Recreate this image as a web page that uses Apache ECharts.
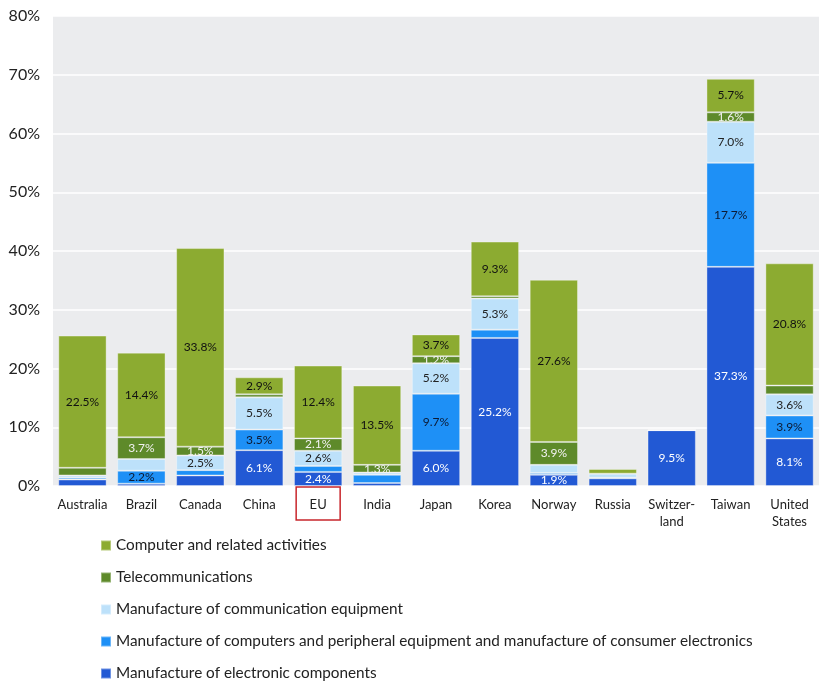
<!DOCTYPE html>
<html>
<head>
<meta charset="utf-8">
<script src="https://cdn.jsdelivr.net/npm/echarts@6/dist/echarts.min.js"></script>
<style>
  html, body { margin: 0; padding: 0; background: #fff; }
  #chart { width: 819px; height: 683px; }
</style>
</head>
<body>
<div id="chart"></div>
<script>
// categories (x axis)
const categories = ['Australia', 'Brazil', 'Canada', 'China', 'EU', 'India', 'Japan', 'Korea',
  'Norway', 'Russia', 'Switzer-\nland', 'Taiwan', 'United\nStates']

// shares in %, stacked bottom to top
const electronic = [1.1, 0.4, 1.8, 6.1, 2.4, 0.5, 6.0, 25.2, 1.9, 1.3, 9.5, 37.3, 8.1]
const computers = [0.3, 2.2, 0.9, 3.5, 1.0, 1.4, 9.7, 1.4, 0.3, 0.1, 0, 17.7, 3.9]
const commEquip = [0.4, 2.0, 2.5, 5.5, 2.6, 0.4, 5.2, 5.3, 1.4, 0.7, 0, 7.0, 3.6]
const telecom = [1.3, 3.7, 1.5, 0.5, 2.1, 1.3, 1.2, 0.4, 3.9, 0, 0, 1.6, 1.5]
const related = [22.5, 14.4, 33.8, 2.9, 12.4, 13.5, 3.7, 9.3, 27.6, 0.8, 0, 5.7, 20.8]

// which segments carry a value label (1 = shown)
const electronicShow = [0, 0, 0, 1, 1, 0, 1, 1, 1, 0, 1, 1, 1]
const computersShow = [0, 1, 0, 1, 0, 0, 1, 0, 0, 0, 0, 1, 1]
const commEquipShow = [0, 0, 1, 1, 1, 0, 1, 1, 0, 0, 0, 1, 1]
const telecomShow = [0, 1, 1, 0, 1, 1, 1, 0, 1, 0, 0, 1, 0]
const relatedShow = [1, 1, 1, 1, 1, 1, 1, 1, 1, 0, 0, 1, 1]

// category framed in red on the axis
const highlighted = 'EU'

// y axis ticks
const yMin = 0
const yMax = 80
const yStep = 10

const seriesNames = [
  'Manufacture of electronic components',
  'Manufacture of computers and peripheral equipment and manufacture of consumer electronics',
  'Manufacture of communication equipment',
  'Telecommunications',
  'Computer and related activities'
]

const font = 'Lato, "Open Sans", sans-serif'

const makeSeries = (name, values, show, color, labelColor) => ({
  name,
  type: 'bar',
  stack: 'total',
  barCategoryGap: '18%',
  data: values.map((v, i) => ({ value: v, label: { show: !!show[i] } })),
  itemStyle: {
    color,
    borderColor: 'rgba(255,255,255,0.35)',
    borderWidth: 1
  },
  label: {
    position: 'inside',
    color: labelColor,
    fontFamily: font,
    fontSize: 12,
    formatter: (p) => p.value.toFixed(1) + '%'
  },
  emphasis: { disabled: true }
})

const chart = echarts.init(document.getElementById('chart'))

chart.setOption({
  animation: false,
  grid: {
    left: 53,
    right: -2,
    top: 16,
    bottom: 197,
    show: true,
    backgroundColor: '#ebecee',
    borderWidth: 0
  },
  legend: {
    orient: 'vertical',
    left: 95,
    top: 533,
    height: 170,
    icon: 'rect',
    itemWidth: 10,
    itemHeight: 10,
    itemGap: 17,
    data: seriesNames.slice().reverse(),
    textStyle: { fontFamily: font, fontSize: 15.3, color: '#222', lineHeight: 15 }
  },
  xAxis: [
    {
      type: 'category',
      data: categories,
      axisLine: { show: false },
      axisTick: { show: false },
      axisLabel: {
        interval: 0,
        margin: 10,
        color: '#222',
        fontFamily: font,
        fontSize: 13,
        lineHeight: 17
      }
    },
    {
      // second copy of the axis, only to draw the red frame
      type: 'category',
      position: 'bottom',
      data: categories,
      axisLine: { show: false },
      axisTick: { show: false },
      splitLine: { show: false },
      axisLabel: {
        interval: 0,
        margin: 1,
        formatter: (v) => (v === highlighted ? '{box| }' : ''),
        rich: {
          box: {
            width: 44,
            height: 33,
            borderColor: '#c8262c',
            borderWidth: 1.5
          }
        }
      }
    }
  ],
  yAxis: {
    type: 'value',
    min: yMin,
    max: yMax,
    interval: yStep,
    axisLine: { show: false },
    axisTick: { show: false },
    axisLabel: {
      margin: 13,
      color: '#222',
      fontFamily: font,
      fontSize: 16,
      formatter: '{value}%'
    },
    splitLine: { lineStyle: { color: '#ffffff', width: 1.5 } }
  },
  series: [
    makeSeries(seriesNames[0], electronic, electronicShow, '#2259d4', '#ffffff'),
    makeSeries(seriesNames[1], computers, computersShow, '#1e90f6', '#0d1a33'),
    makeSeries(seriesNames[2], commEquip, commEquipShow, '#bde1fa', '#222222'),
    makeSeries(seriesNames[3], telecom, telecomShow, '#5e8a2a', '#f2f2f2'),
    makeSeries(seriesNames[4], related, relatedShow, '#8cab31', '#111111')
  ]
})
</script>
</body>
</html>
